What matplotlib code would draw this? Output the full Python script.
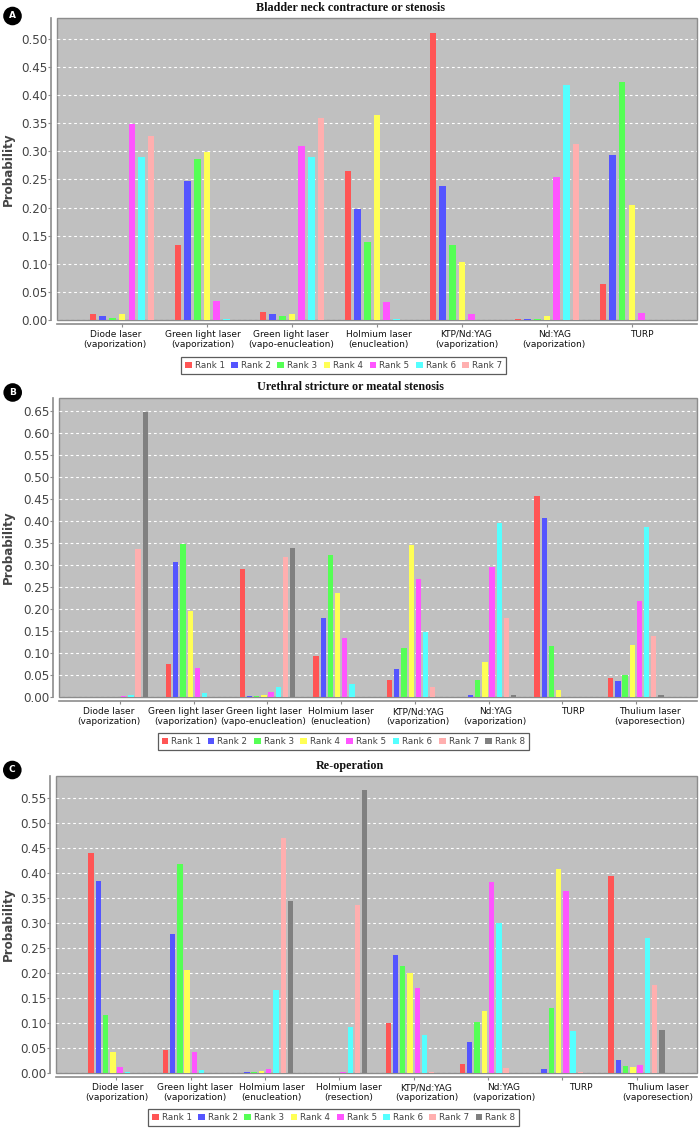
import matplotlib
matplotlib.use("Agg")
import matplotlib.pyplot as plt
import numpy as np
from matplotlib.patches import Patch, Circle

W, H = 700, 1129
fig = plt.figure(figsize=(W / 100, H / 100), dpi=100)

rank_colors = ["#FF5555", "#5555FF", "#55FF55", "#FFFF55", "#FF55FF", "#55FFFF", "#FFAFAF", "#808080"]

# ---------------- data ----------------
title_A = "Bladder neck contracture or stenosis"
cats_A = ["Diode laser\n(vaporization)", "Green light laser\n(vaporization)",
          "Green light laser\n(vapo-enucleation)", "Holmium laser\n(enucleation)",
          "KTP/Nd:YAG\n(vaporization)", "Nd:YAG\n(vaporization)", "TURP"]
rank1_A = [0.010, 0.133, 0.015, 0.265, 0.510, 0.002, 0.064]
rank2_A = [0.008, 0.248, 0.010, 0.198, 0.239, 0.002, 0.294]
rank3_A = [0.004, 0.287, 0.008, 0.138, 0.133, 0.002, 0.424]
rank4_A = [0.011, 0.299, 0.010, 0.364, 0.104, 0.007, 0.205]
rank5_A = [0.348, 0.033, 0.310, 0.032, 0.011, 0.254, 0.012]
rank6_A = [0.290, 0.001, 0.290, 0.001, 0.000, 0.418, 0.000]
rank7_A = [0.328, 0.000, 0.360, 0.000, 0.000, 0.313, 0.000]

title_B = "Urethral stricture or meatal stenosis"
cats_B = ["Diode laser\n(vaporization)", "Green light laser\n(vaporization)",
          "Green light laser\n(vapo-enucleation)", "Holmium laser\n(enucleation)",
          "KTP/Nd:YAG\n(vaporization)", "Nd:YAG\n(vaporization)", "TURP",
          "Thulium laser\n(vaporesection)"]
rank1_B = [0.001, 0.076, 0.291, 0.093, 0.039, 0.001, 0.457, 0.043]
rank2_B = [0.001, 0.306, 0.004, 0.179, 0.064, 0.005, 0.406, 0.037]
rank3_B = [0.001, 0.349, 0.003, 0.323, 0.113, 0.039, 0.117, 0.051]
rank4_B = [0.001, 0.196, 0.006, 0.237, 0.345, 0.079, 0.017, 0.119]
rank5_B = [0.003, 0.066, 0.011, 0.135, 0.268, 0.295, 0.001, 0.219]
rank6_B = [0.005, 0.009, 0.023, 0.030, 0.148, 0.395, 0.000, 0.386]
rank7_B = [0.336, 0.000, 0.319, 0.001, 0.023, 0.179, 0.000, 0.138]
rank8_B = [0.647, 0.000, 0.340, 0.000, 0.001, 0.006, 0.000, 0.005]

title_C = "Re-operation"
cats_C = ["Diode laser\n(vaporization)", "Green light laser\n(vaporization)",
          "Holmium laser\n(enucleation)", "Holmium laser\n(resection)",
          "KTP/Nd:YAG\n(vaporization)", "Nd:YAG\n(vaporization)", "TURP",
          "Thulium laser\n(vaporesection)"]
rank1_C = [0.440, 0.047, 0.001, 0.001, 0.100, 0.018, 0.000, 0.395]
rank2_C = [0.385, 0.279, 0.002, 0.001, 0.237, 0.063, 0.009, 0.026]
rank3_C = [0.117, 0.419, 0.002, 0.001, 0.214, 0.103, 0.131, 0.014]
rank4_C = [0.043, 0.207, 0.004, 0.001, 0.200, 0.125, 0.408, 0.013]
rank5_C = [0.013, 0.043, 0.009, 0.002, 0.170, 0.382, 0.365, 0.017]
rank6_C = [0.003, 0.007, 0.167, 0.092, 0.077, 0.300, 0.085, 0.270]
rank7_C = [0.000, 0.000, 0.471, 0.336, 0.003, 0.011, 0.003, 0.177]
rank8_C = [0.000, 0.000, 0.345, 0.567, 0.000, 0.000, 0.000, 0.087]

panels = [
    dict(letter="A", title=title_A, cats=cats_A,
         ranks=[rank1_A, rank2_A, rank3_A, rank4_A, rank5_A, rank6_A, rank7_A],
         box=(57, 697, 18, 320), ymax=0.537, xmargin=0.765, pitch=0.1138, bw=0.075,
         spread=(2.4, 1.033), title_y=8, circ=(12.5, 16), leg=(343.5, 365.3)),
    dict(letter="B", title=title_B, cats=cats_B,
         ranks=[rank1_B, rank2_B, rank3_B, rank4_B, rank5_B, rank6_B, rank7_B, rank8_B],
         box=(59, 697, 397.7, 697.3), ymax=0.680, xmargin=0.83, pitch=0.0977, bw=0.072,
         spread=(3.1, 1.049), title_y=387, circ=(12.7, 392.5), leg=(343.3, 741.5)),
    dict(letter="C", title=title_C, cats=cats_C,
         ranks=[rank1_C, rank2_C, rank3_C, rank4_C, rank5_C, rank6_C, rank7_C, rank8_C],
         box=(56, 697, 776, 1073.3), ymax=0.595, xmargin=0.814, pitch=0.0978, bw=0.072,
         spread=(-0.3, 1.040), title_y=766, circ=(12.3, 770), leg=(333.8, 1117.5)),
]

text_grey = "#444444"

for p in panels:
    l, r, t, b = p["box"]
    ax = fig.add_axes([l / W, 1 - b / H, (r - l) / W, (b - t) / H])
    ax.set_facecolor("#C0C0C0")
    ax.patch.set_edgecolor("#8c8c8c")
    ax.patch.set_linewidth(1.0)
    n = len(p["cats"])
    nr = len(p["ranks"])
    x = np.arange(n)
    for k, vals in enumerate(p["ranks"]):
        off = (k - (nr - 1) / 2) * p["pitch"]
        ax.bar(x + off, vals, width=p["bw"], color=rank_colors[k], linewidth=0, zorder=3,
               label=f"Rank {k + 1}")
    ax.set_xlim(-p["xmargin"], n - 1 + p["xmargin"])
    ax.set_ylim(0, p["ymax"])
    yt = np.arange(0, p["ymax"] + 1e-9, 0.05)
    ax.set_yticks(yt)
    ax.set_yticklabels([f"{v:.2f}" for v in yt])
    ax.tick_params(axis="y", labelsize=8.6, labelcolor=text_grey, length=2, width=0.8,
                   color="#8c8c8c", pad=1)
    ax.yaxis.grid(True, color="white", linestyle=(0, (2.5, 2.5)), linewidth=0.8, zorder=1)
    ax.set_axisbelow(True)
    # category ticks and labels
    ax.set_xticks(x)
    ax.set_xticklabels([""] * n)
    c, s = p["spread"]
    lab_pos = c + (x - c) * s
    ax.set_xticks(lab_pos, minor=True)
    ax.set_xticklabels(p["cats"], minor=True)
    ax.tick_params(axis="x", which="minor", length=0, pad=4, labelsize=6.5, labelcolor="#111111")
    ax.tick_params(axis="x", which="major", length=2.5, width=0.8, color="#8c8c8c", direction="out")
    for lbl in ax.get_xticklabels(minor=True):
        lbl.set_linespacing(0.88)
    for side in ["top", "right"]:
        ax.spines[side].set_visible(False)
    ax.spines["bottom"].set_position(("outward", 3))
    ax.spines["left"].set_position(("outward", 4))
    ax.spines["bottom"].set_color("#8c8c8c")
    ax.spines["left"].set_color("#8c8c8c")
    ax.spines["bottom"].set_linewidth(1.2)
    ax.spines["left"].set_linewidth(1.2)
    ax.set_ylabel("Probability", fontsize=8.6, fontweight="bold", color=text_grey)
    ax.yaxis.set_label_coords(-(l - 15) / (r - l), 0.5)

    fig.text(350 / W, 1 - p["title_y"] / H, p["title"], ha="center", va="center",
             fontsize=8.7, fontweight="bold", family="Liberation Serif", color="#111111")
    cx, cy = p["circ"]
    fig.patches.append(Circle((cx, H - cy), 9.3, transform=None, facecolor="black",
                              edgecolor="none"))
    fig.text(cx / W, 1 - cy / H, p["letter"], ha="center", va="center", fontsize=6.5,
             fontweight="bold", color="white")

    handles = [Patch(facecolor=rank_colors[k], edgecolor="none") for k in range(nr)]
    labels = [f"Rank {k + 1}" for k in range(nr)]
    lx, ly = p["leg"]
    leg = fig.legend(handles, labels, loc="center", bbox_to_anchor=(lx / W, 1 - ly / H),
                     ncol=nr, fontsize=6.3, frameon=True, fancybox=False,
                     handlelength=0.75, handleheight=0.75, handletextpad=0.35,
                     columnspacing=0.75, borderpad=0.45, borderaxespad=0)
    leg.get_frame().set_edgecolor("#333333")
    leg.get_frame().set_linewidth(0.9)
    for txt in leg.get_texts():
        txt.set_color(text_grey)

fig.savefig("out.png", dpi=100)
